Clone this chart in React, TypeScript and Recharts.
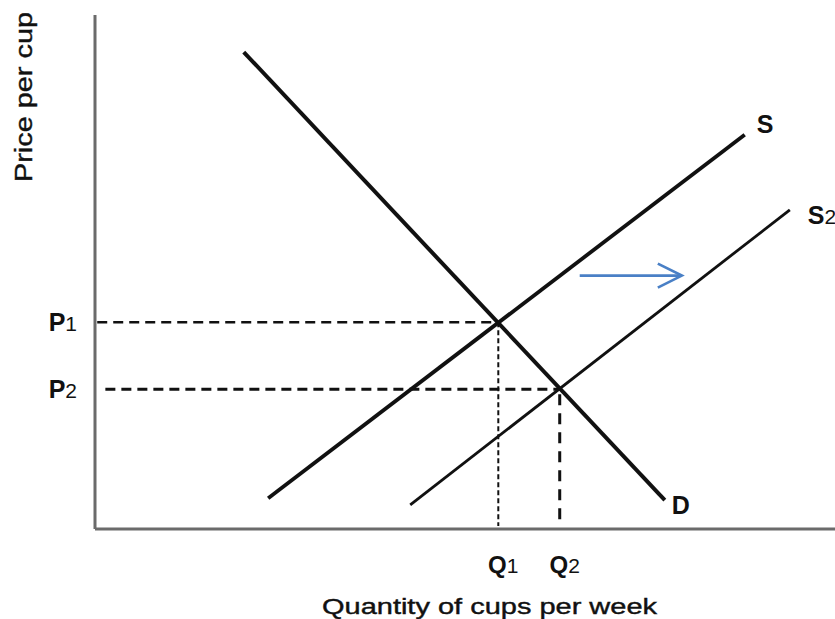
import React from "react";
import { LineChart, Line, XAxis, YAxis, Label } from "recharts";

// curves (quantity 0-100, price 0-100)
const demand = [
  { q: 20.1, p: 92.8 },
  { q: 77.0, p: 5.6 },
];
const supply = [
  { q: 23.4, p: 6.0 },
  { q: 87.8, p: 76.7 },
];
const supply2 = [
  { q: 42.6, p: 4.7 },
  { q: 93.9, p: 62.1 },
];

// equilibrium values
const Q1 = 54.5;
const P1 = 40.2;
const Q2 = 62.8;
const P2 = 27.2;

const p1Guide = [
  { q: 0.3, p: P1 },
  { q: Q1, p: P1 },
];
const p2Guide = [
  { q: 1.4, p: P2 },
  { q: Q2, p: P2 },
];
const q1Guide = [
  { q: Q1, p: P1 },
  { q: Q1, p: 0.6 },
];
const q2Guide = [
  { q: Q2, p: P2 - 1 },
  { q: Q2, p: 1.4 },
];

const shiftArrow = [
  { q: 65.5, p: 49.3 },
  { q: 79.3, p: 49.3 },
];

const xTicks = [Q1, Q2];
const yTicks = [P1, P2];
const xTickLabels = ["Q", "Q"];
const xTickSubs = ["1", "2"];
const yTickLabels = ["P", "P"];
const yTickSubs = ["1", "2"];

const FONT = "'Liberation Sans', Arial, sans-serif";
const INK = "#111";
const AXIS = "#6b6b6b";
const BLUE = "#4a80c6";

function endLabel(text: string, sub: string, dx: number, dy: number) {
  return (props: any) => {
    if (props.index !== 1) return null;
    return (
      <text
        key="lbl"
        x={props.x + dx}
        y={props.y + dy}
        fontFamily={FONT}
        fontSize={25}
        fontWeight="bold"
        fill={INK}
      >
        {text}
        {sub && (
          <tspan fontSize={21} fontWeight="normal">
            {sub}
          </tspan>
        )}
      </text>
    );
  };
}

const XTick = (props: any) => {
  const i = xTicks.indexOf(props.payload.value);
  return (
    <text
      x={props.x + 5}
      y={props.y + 44}
      textAnchor="middle"
      fontFamily={FONT}
      fontSize={24}
      fontWeight="bold"
      fill={INK}
    >
      {xTickLabels[i]}
      <tspan fontSize={21} fontWeight="normal">
        {xTickSubs[i]}
      </tspan>
    </text>
  );
};

const YTick = (props: any) => {
  const i = yTicks.indexOf(props.payload.value);
  return (
    <text
      x={props.x - 18}
      y={props.y + 9}
      textAnchor="end"
      fontFamily={FONT}
      fontSize={25}
      fontWeight="bold"
      fill={INK}
    >
      {yTickLabels[i]}
      <tspan fontSize={21} fontWeight="normal">
        {yTickSubs[i]}
      </tspan>
    </text>
  );
};

const ArrowHead = (props: any) => {
  if (props.index !== 1) return null;
  const { cx, cy } = props;
  return (
    <path
      key="head"
      d={`M${cx - 24},${cy - 12} L${cx},${cy} L${cx - 24},${cy + 12}`}
      stroke={BLUE}
      strokeWidth={2.7}
      fill="none"
    />
  );
};

export default function App() {
  return (
    <div style={{ width: 835, height: 619, background: "#fff", overflow: "hidden" }}>
      <style>{`body{margin:0}`}</style>
      <LineChart
        width={835}
        height={619}
        margin={{ top: 15, right: 0, bottom: 0, left: 0 }}
      >
        <XAxis
          type="number"
          dataKey="q"
          domain={[0, 100]}
          allowDataOverflow
          ticks={xTicks}
          tick={<XTick />}
          tickLine={false}
          tickSize={0}
          tickMargin={0}
          height={90}
          axisLine={{ stroke: AXIS, strokeWidth: 3 }}
        >
          <Label
            content={(p: any) => (
              <text
                x={p.viewBox.x + 227}
                y={p.viewBox.y + 85}
                fontFamily={FONT}
                fontSize={22}
                stroke={INK}
                strokeWidth={0.4}
                textLength={335}
                lengthAdjust="spacingAndGlyphs"
                fill={INK}
              >
                Quantity of cups per week
              </text>
            )}
          />
        </XAxis>
        <YAxis
          type="number"
          dataKey="p"
          domain={[0, 100]}
          allowDataOverflow
          ticks={yTicks}
          tick={<YTick />}
          tickLine={false}
          tickSize={0}
          tickMargin={0}
          width={95}
          axisLine={{ stroke: AXIS, strokeWidth: 3 }}
        >
          <Label
            content={(p: any) => (
              <text
                transform={`translate(${p.viewBox.x + 32}, ${p.viewBox.y + 82}) rotate(-90)`}
                textAnchor="middle"
                fontFamily={FONT}
                fontSize={23}
                stroke={INK}
                strokeWidth={0.4}
                textLength={170}
                lengthAdjust="spacingAndGlyphs"
                fill={INK}
              >
                Price per cup
              </text>
            )}
          />
        </YAxis>

        <Line
          data={p1Guide}
          dataKey="p"
          stroke={INK}
          strokeWidth={2.5}
          strokeDasharray="10 6"
          dot={false}
          isAnimationActive={false}
        />
        <Line
          data={p2Guide}
          dataKey="p"
          stroke={INK}
          strokeWidth={3}
          strokeDasharray="10 6"
          dot={false}
          isAnimationActive={false}
        />
        <Line
          data={q1Guide}
          dataKey="p"
          stroke={INK}
          strokeWidth={2}
          strokeDasharray="5 3"
          dot={false}
          isAnimationActive={false}
        />
        <Line
          data={q2Guide}
          dataKey="p"
          stroke={INK}
          strokeWidth={3}
          strokeDasharray="11 8"
          dot={false}
          isAnimationActive={false}
        />

        <Line
          data={demand}
          dataKey="p"
          stroke={INK}
          strokeWidth={4}
          dot={false}
          label={endLabel("D", "", 7, 14)}
          isAnimationActive={false}
        />
        <Line
          data={supply}
          dataKey="p"
          stroke={INK}
          strokeWidth={3.8}
          dot={false}
          label={endLabel("S", "", 12, -2)}
          isAnimationActive={false}
        />
        <Line
          data={supply2}
          dataKey="p"
          stroke={INK}
          strokeWidth={2.8}
          dot={false}
          label={endLabel("S", "2", 18, 14)}
          isAnimationActive={false}
        />
        <Line
          data={shiftArrow}
          dataKey="p"
          stroke={BLUE}
          strokeWidth={2.7}
          dot={<ArrowHead />}
          activeDot={false}
          isAnimationActive={false}
        />
      </LineChart>
    </div>
  );
}
